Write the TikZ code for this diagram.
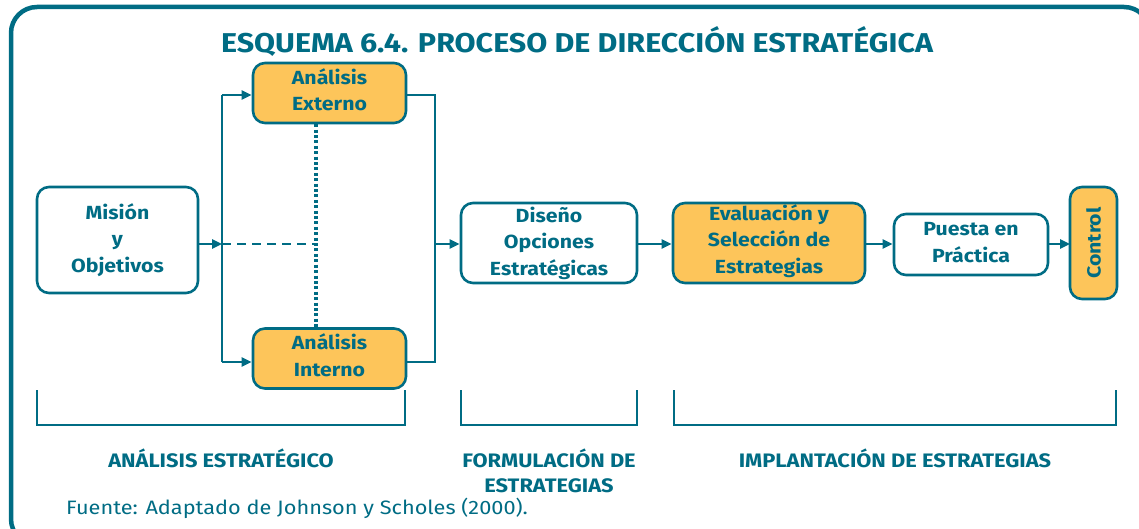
\documentclass[tikz,border=0pt]{standalone}
\usepackage{fontspec}
\setmainfont{Fira Sans}[FakeStretch=1.12]
\usetikzlibrary{arrows.meta}
\definecolor{teal}{HTML}{006C84}
\definecolor{gold}{HTML}{FDC55A}
\begin{document}
\begin{tikzpicture}[x=1pt,y=-1pt,
  box/.style={draw=teal,line width=2.6pt,rounded corners=12pt,align=center,
    text=teal,font=\fontsize{19}{26.5}\selectfont\bfseries,inner sep=0pt},
  wbox/.style={box,fill=white},
  obox/.style={box,fill=gold},
  conn/.style={draw=teal,line width=2.4pt},
  arr/.style={conn,-{Triangle[length=10pt,width=9pt]}},
  bracket/.style={draw=teal,line width=2.6pt},
  lab/.style={text=teal,font=\fontsize{19.5}{25}\selectfont\bfseries,align=center,inner sep=0pt}]
\useasboundingbox (0,0) rectangle (1139,529);
% frame
\draw[teal,line width=4.5pt,rounded corners=26pt] (11,7) rectangle (1150,545);
% title
\node[text=teal,font=\fontsize{27.2}{30}\selectfont\bfseries,inner sep=0pt] (title) at (577,42) {ESQUEMA 6.4. PROCESO DE DIRECCIÓN ESTRATÉGICA};
% boxes
\node[wbox,minimum width=161pt,minimum height=106pt] (mision) at (117.5,240) {Misión\\y\\Objetivos};
\node[obox,minimum width=153pt,minimum height=60pt,text depth=6.5pt] (ext) at (329.5,93) {Análisis\\Externo};
\node[obox,minimum width=153pt,minimum height=60pt,text depth=7pt] (int) at (329.5,358.5) {Análisis\\Interno};
\node[wbox,minimum width=176pt,minimum height=80pt] (diseno) at (549,243) {Diseño\\Opciones\\Estratégicas};
\node[obox,minimum width=192pt,minimum height=80pt,text depth=8pt] (eval) at (769,243) {Evaluación y\\Selección de\\Estrategias};
\node[wbox,minimum width=154pt,minimum height=61pt,text depth=4pt] (puesta) at (971,244.5) {Puesta en\\Práctica};
\node[obox,rotate=90,minimum width=112pt,minimum height=47pt] (control) at (1093.5,243) {Control};
% junction coordinates
\coordinate (jl1) at (222,95);
\coordinate (jl2) at (222,362);
\coordinate (jm) at (222,244);
\coordinate (dot) at (316,244);
\coordinate (jr1) at (435,95);
\coordinate (jr2) at (435,362);
\coordinate (jrm) at (435,244);
\coordinate (cin) at (1070,244);
% connectors
\draw[conn] (jl1) -- (jl2);
\draw[arr] (jl1) -- (jl1 -| ext.west);
\draw[arr] (jl2) -- (jl2 -| int.west);
\draw[arr] (mision.east |- jm) -- (jm);
\draw[conn,line width=1.8pt,dash pattern=on 9pt off 6pt] (jm) -- (dot);
\draw[conn,line width=3.2pt,dash pattern=on 3pt off 2.4pt] (ext.south -| dot) -- (int.north -| dot);
\draw[conn] (jr1 -| ext.east) -- (jr1) -- (jr2) -- (jr2 -| int.east);
\draw[arr] (jrm) -- (jrm -| diseno.west);
\draw[arr] (diseno.east |- jrm) -- (eval.west |- jrm);
\draw[arr] (eval.east |- jrm) -- (puesta.west |- jrm);
\draw[arr] (puesta.east |- jrm) -- (cin);
% brackets
\draw[bracket] (37,390) -- (37,425) -- (405,425) -- (405,390);
\draw[bracket] (461,390) -- (461,425) -- (637,425) -- (637,390);
\draw[bracket] (674,390) -- (674,425) -- (1116,425) -- (1116,390);
\node[lab] (l1) at (221,458) {ANÁLISIS ESTRATÉGICO};
\node[lab] (l2) at (549,471) {FORMULACIÓN DE\\ESTRATEGIAS};
\node[lab] (l3) at (895,458) {IMPLANTACIÓN DE ESTRATEGIAS};
\node[text=teal,font=\fontsize{19.4}{22}\selectfont,anchor=west,inner sep=0pt] (src) at (66,508.5) {Fuente: Adaptado de Johnson y Scholes (2000).};
\end{tikzpicture}
\end{document}
